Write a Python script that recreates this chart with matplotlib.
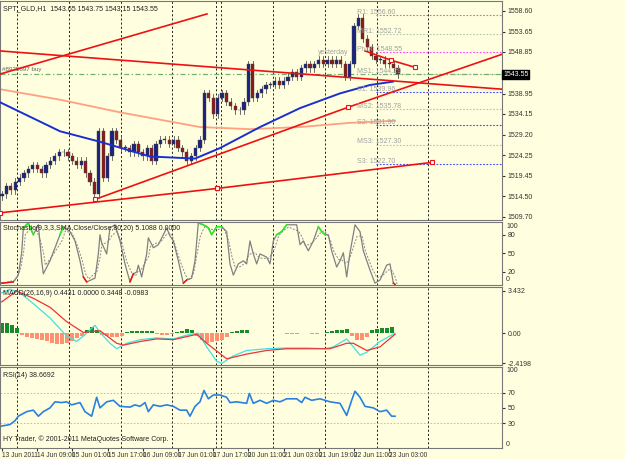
import numpy as np
import matplotlib
matplotlib.use("Agg")
import matplotlib.pyplot as plt
plt.rcParams['font.family'] = ['Liberation Sans', 'DejaVu Sans']

# ---------------- data ----------------
closes = [1515,1517,1516,1518,1519,1520,1521,1522,1521,1520,1522,1523,1524,1525,1525,1524,
          1523,1522,1523,1520,1518,1515,1530,1519,1524,1530,1528,1526,1526,1525,1527,1525,
          1524,1526,1523,1527,1528,1528,1527,1528,1526,1525,1523,1524,1526,1528,1539,1538,
          1534,1538,1539,1537,1536,1535,1535,1537,1546,1538,1539,1540,1541,1541,1542,1541,
          1542,1543,1544,1543,1545,1546,1545,1546,1547,1546,1547,1546,1547,1546,1543,1546,
          1555,1557,1552,1550,1548,1547,1547,1546,1546,1545,1543.55]
blue_ma_x = [0,60,100,150,195,220,260,300,340,370,393]
blue_ma_y = [1536.9,1530.0,1527.5,1524.0,1523.5,1526.0,1531.0,1535.5,1539.0,1541.0,1541.8]
orange_ma_x = [0,60,120,200,250,300,350,395]
orange_ma_y = [1540.0,1537.5,1534.5,1531.0,1530.5,1531.0,1532.0,1532.5]
trend_lines = [((0,1543.6),(207,1557.9),False),
               ((0,1549.1),(502,1540.0),False),
               ((95,1513.8),(348,1535.7),True),
               ((348,1535.7),(502,1548.3),False),
               ((0,1510.6),(217,1516.4),True),
               ((217,1516.4),(432,1522.6),True),
               ((365,1549.1),(391,1546.9),False),
               ((391,1546.9),(415,1545.2),True)]
pivot_names = ["R1: 1556.60","MR1: 1552.72","Pivot: 1548.55","MS1: 1544.29","S1: 1539.96",
               "MS2: 1535.78","S2: 1531.90","MS3: 1527.30","S3: 1522.70"]
pivot_levels = [1557.6,1553.1,1548.9,1543.6,1539.3,1535.3,1531.4,1526.8,1522.2]
pivot_colors = ["#ff6060","#b0c8a0","#ff40ff","#b0c8a0","#4040ff","#b0c8a0","#4040ff","#b0c8a0","#4040ff"]
price_ticks = [1558.60,1553.65,1548.85,1538.95,1534.15,1529.20,1524.25,1519.45,1514.50,1509.70]

stoch_x3 = [5,40,55,65,70,85,100,115,125,130,150,180,190,210,225,240,250,260,285,295,300,305,320,330,
            345,360,375,390,400,410,415,425,440,445,460,475,490,500,510,520,535,550,560,575,585,595,
            610,625,635,650,665,680,690,700,715,730,740,750,760,770,780,800,810,820,830,845,860,890,
            900,910,925,940,955,965,975,985,995,1010,1020,1030,1040,1050,1065,1080,1090,1110,1125,
            1140,1160,1170,1180,1185]
stoch_v = [2,4,15,51,91,99,80,96,38,17,38,80,93,85,70,38,12,4,10,49,80,67,49,91,96,70,33,4,17,20,
           31,12,49,75,59,64,80,91,78,70,38,2,7,10,38,99,96,91,80,93,93,85,33,15,33,38,33,70,49,33,
           49,44,33,70,80,85,96,96,64,70,54,70,93,85,80,80,54,28,38,51,12,51,96,85,54,23,2,7,31,33,2,0]

macd_cyan_x3 = [5,30,60,100,150,180,200,230,250,285,300,330,350,380,420,470,520,570,595,620,650,665,
                700,740,800,860,920,975,1000,1040,1060,1080,1100,1140,1185]
macd_cyan = [3.26,3.55,3.26,2.39,1.23,0.36,-0.22,-0.66,-0.22,0.65,0.07,-0.8,-1.24,-0.8,-0.51,-0.37,
             -0.45,-0.08,0.01,-1.09,-2.25,-2.42,-1.82,-1.38,-1.24,-1.18,-1.18,-1.24,-1.09,-0.45,
             -1.09,-1.76,-1.53,-0.66,0.01]
macd_red_x3 = [5,50,100,150,200,250,300,350,370,420,470,520,590,620,680,740,800,860,920,990,1040,1060,
               1100,1140,1185]
macd_red = [2.53,3.40,2.82,2.1,0.94,0.07,0.21,-0.8,-0.95,-0.66,-0.45,-0.51,-0.08,-0.8,-2.05,-1.67,
            -1.38,-1.24,-1.24,-1.24,-0.8,-0.8,-1.38,-1.09,-0.08]
macd_hist = [0.8,0.8,0.7,0.4,-0.1,-0.3,-0.4,-0.45,-0.5,-0.6,-0.75,-0.85,-0.85,-0.75,-0.6,-0.4,-0.2,
             0.3,0.5,0.3,-0.1,-0.2,-0.3,-0.3,-0.2,0.1,0.15,0.2,0.2,0.2,0.15,-0.05,-0.1,-0.1,-0.05,
             0.1,0.2,0.35,0.3,-0.2,-0.5,-0.8,-0.7,-0.6,-0.5,-0.3,0.1,0.2,0.25,0.3,0.05,0.05,0.0,0.05,
             0.05,0.0,0.05,-0.05,-0.05,-0.05,0.03,0.0,-0.05,-0.05,0.0,0.1,0.2,0.25,0.3,0.35,-0.2,
             -0.5,-0.55,-0.3,0.3,0.35,0.4,0.45,0.5]

rsi_x3 = [5,30,45,55,80,100,115,130,150,165,185,200,215,240,255,275,290,300,320,340,360,390,405,420,
          435,445,460,480,500,520,540,560,570,585,600,612,625,640,660,680,690,710,740,748,760,780,
          800,820,840,860,890,905,915,935,960,990,1020,1040,1055,1065,1080,1095,1120,1140,1160,
          1175,1185]
rsi_v = [26,28,33,39,45,47,39,45,50,58,57,58,54,57,45,39,64,50,58,60,52,51,54,52,57,45,54,52,54,
         52,47,47,39,52,58,73,62,67,67,64,57,58,56,69,56,60,56,60,58,62,62,57,64,60,62,58,56,40,
         60,72,64,52,50,45,47,39,39]

time_labels = ["13 Jun 2011","14 Jun 09:00","15 Jun 01:00","15 Jun 17:00","16 Jun 09:00",
               "17 Jun 01:00","17 Jun 17:00","20 Jun 11:00","21 Jun 03:00","21 Jun 19:00",
               "22 Jun 11:00","23 Jun 03:00"]
vlines = [17,69,121,172,216,221,273,325,377,428]

# ---------------- figure ----------------
BG = "#ffffe0"
W, H = 625, 459
fig = plt.figure(figsize=(W/100, H/100), dpi=100, facecolor=BG)
FS = 5.0
XR = 502

def mk(top, bot):
    ax = fig.add_axes([0, 1-bot/H, XR/W, (bot-top)/H], facecolor=BG)
    ax.set_xlim(0, XR)
    ax.set_xticks([])
    ax.yaxis.tick_right()
    ax.tick_params(axis='y', labelsize=FS, length=2, pad=2, colors='#333333')
    for s in ax.spines.values():
        s.set_color('#777777'); s.set_linewidth(0.8)
    for v in vlines:
        ax.axvline(v, color='black', ls=(0,(2.5,2.5)), lw=0.6, zorder=1)
    return ax

# main
ax = mk(1, 220)
ax.set_ylim(1508.9, 1560.97)
ax.set_yticks(price_ticks)
ax.set_yticklabels([f"{p:.2f}" for p in price_ticks])
for i, c in enumerate(closes):
    x = 2 + 4.4*i
    o = closes[i-1] if i > 0 else c - 0.5
    hi, lo = max(o, c) + 0.8, min(o, c) - 0.8
    col = '#1a237e' if c >= o else '#8b1a1a'
    ax.plot([x, x], [lo, hi], color='#555555', lw=0.6, zorder=3)
    ax.add_patch(plt.Rectangle((x-1.6, min(o, c)), 3.2, max(abs(c-o), 0.15),
                               facecolor=col, edgecolor='#444444', lw=0.3, zorder=4))
ax.plot(blue_ma_x, blue_ma_y, color='#1a2fd0', lw=1.4, zorder=5)
ax.plot(orange_ma_x, orange_ma_y, color='#ffa080', lw=1.3, zorder=2)
for (a, b, mark) in trend_lines:
    ax.plot([a[0], b[0]], [a[1], b[1]], color='#ee1111', lw=1.2, zorder=6)
    if mark:
        for pt in (a, b):
            ax.plot(*pt, marker='s', ms=3, mfc='white', mec='#ee1111', mew=0.8, zorder=7)
for name, lvl, col in zip(pivot_names, pivot_levels, pivot_colors):
    ax.plot([376, XR], [lvl, lvl], color=col, ls=(0,(1.5,1.5)), lw=0.8, zorder=2)
    ax.text(357, lvl+0.3, name, fontsize=FS, color='#a0a0a0', zorder=8)
ax.axhline(1543.55, color='#70b070', ls=(0,(4,2,1,2)), lw=0.9, zorder=2)
ax.text(318, 1548.3, "yesterday", fontsize=FS, color='#a0a0a0')
ax.text(2, 1544.4, "#8925897 buy", fontsize=FS-0.5, color='#606060')
ax.text(3, 1558.8, "SPT_GLD,H1  1543.65 1543.75 1543.15 1543.55", fontsize=FS, color='#222222')
ax.text(XR+1, 1543.55, "1543.55", fontsize=FS, color='white', va='center', ha='left',
        bbox=dict(boxstyle='square,pad=0.15', fc='black', ec='black'), clip_on=False)

# stochastic
ax2 = mk(222, 285)
ax2.set_ylim(-1, 100.5)
ax2.set_yticks([80, 50, 20]); ax2.set_yticklabels(["80", "50", "20"])
ax2.text(XR+4, 99, "100", fontsize=FS, va='top', color='#333333')
ax2.text(XR+4, 2, "0", fontsize=FS, va='bottom', color='#333333')
sx = np.array(stoch_x3)/3
sv = np.array(stoch_v, float)
sig = np.convolve(sv, np.ones(3)/3, mode='same')
ax2.plot(sx+2, sig, color='#888888', ls=(0,(2,1.5)), lw=0.7)
ax2.plot(sx, sv, color='#808080', lw=0.9)
ax2.plot(sx, np.ma.masked_where(np.minimum(sv, np.r_[sv[1:], sv[-1]]) < 80, sv), color='#22ee22', lw=1.1)
ax2.plot(sx, np.ma.masked_where(np.maximum(sv, np.r_[sv[1:], sv[-1]]) > 20, sv), color='#ee1111', lw=1.1)
ax2.text(3, 96, "Stochastic(9,3,3,SMA,Close/Close,80,20) 5.1088 0.0000", fontsize=FS, va='top', color='#222222')

# MACD
ax3 = mk(287, 365)
ax3.set_ylim(-2.55, 3.73)
ax3.set_yticks([3.432, 0.0, -2.4198]); ax3.set_yticklabels(["3.432", "0.00", "-2.4198"])
hx = 5/3 + 5*np.arange(len(macd_hist))
hv = np.array(macd_hist)
ax3.bar(hx, hv, width=4.2, color=np.where(hv >= 0, '#1a8a2a', '#ff9070'), zorder=2)
ax3.plot(np.array(macd_cyan_x3)/3, macd_cyan, color='#40e0e0', lw=0.9, zorder=3)
ax3.plot(np.array(macd_red_x3)/3, macd_red, color='#ee3333', lw=0.9, zorder=3)
ax3.text(3, 3.5, "MACD(26,16,9) 0.4431 0.0000 0.3448 -0.0983", fontsize=FS, va='top', color='#222222')

# RSI
ax4 = mk(367, 448)
ax4.set_ylim(-3, 104)
ax4.set_yticks([70, 50, 30])
ax4.text(XR+4, 100, "100", fontsize=FS, va='center', color='#333333')
ax4.text(XR+4, 2, "0", fontsize=FS, va='center', color='#333333')
for lv in (70, 30):
    ax4.axhline(lv, color='#a0c0a0', ls=(0,(2,2)), lw=0.6)
ax4.plot(np.array(rsi_x3)/3, rsi_v, color='#2a80e0', lw=1.2)
ax4.text(3, 97, "RSI(14) 38.6692", fontsize=FS, va='top', color='#222222')
ax4.text(3, 3, "HY Trader, © 2001-2011 MetaQuotes Software Corp.", fontsize=FS, va='bottom', color='#222222')
ax4.set_xticks([2 + 35.2*k for k in range(len(time_labels))])
ax4.set_xticklabels(time_labels, fontsize=4.8, ha='left')
ax4.tick_params(axis='x', length=2, pad=1, colors='#333333')

fig.savefig("out.png", dpi=100, facecolor=BG)
